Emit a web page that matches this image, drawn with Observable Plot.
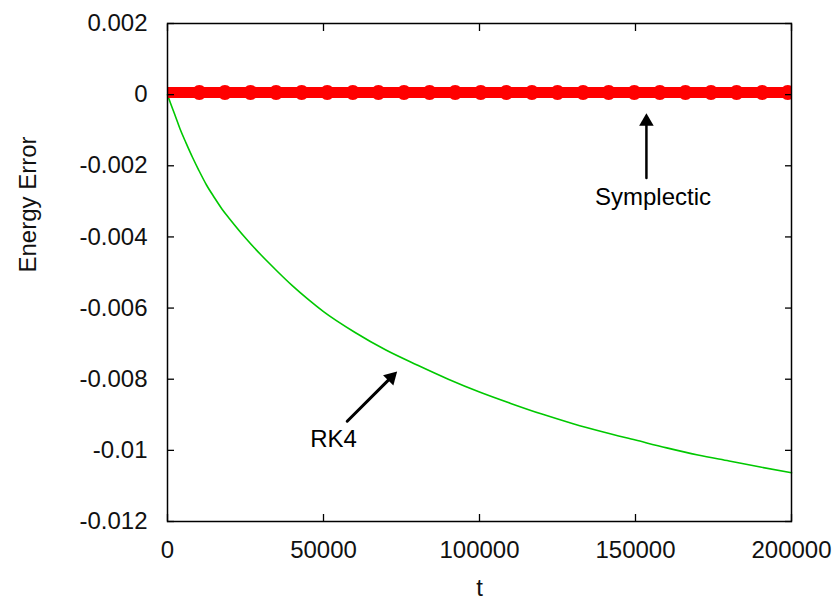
<!DOCTYPE html>
<html><head><meta charset="utf-8">
<script src="https://cdn.jsdelivr.net/npm/d3@7"></script>
<script src="https://cdn.jsdelivr.net/npm/@observablehq/plot@0.6"></script>
<style>body{margin:0;background:#fff} #chart{width:837px;height:605px}</style>
</head><body><div id="chart"></div>
<script>
// RK4 energy error vs time
const rk4T = [0, 1000, 2500, 4000, 6000, 8000, 10000, 12500, 15000, 17500, 20000, 25000, 30000, 35000, 40000, 45000, 50000, 60000, 70000, 80000, 90000, 100000, 110000, 120000, 130000, 140000, 150000, 160000, 170000, 180000, 190000, 200000];
const rk4E = [0, -0.00025, -0.0006, -0.00096, -0.00137, -0.00176, -0.00212, -0.00254, -0.00289, -0.00322, -0.0035, -0.00403, -0.00451, -0.00495, -0.00537, -0.00575, -0.0061, -0.00668, -0.00718, -0.0076, -0.008, -0.00836, -0.00868, -0.00898, -0.00925, -0.00949, -0.00971, -0.00993, -0.01013, -0.0103, -0.01047, -0.01063];

// Symplectic energy error (a thin band near zero), sampled at the marker positions
const symT = [0, 10200, 18400, 26600, 34800, 43000, 51200, 59400, 67600, 75800, 84000, 92200, 100400, 108600, 116800, 125000, 133200, 141400, 149600, 157800, 166000, 174200, 182400, 190600, 198800, 200000];
const symE = [0.00006, 0.00006, 0.00006, 0.00006, 0.00006, 0.00006, 0.00006, 0.00006, 0.00006, 0.00006, 0.00006, 0.00006, 0.00006, 0.00006, 0.00006, 0.00006, 0.00006, 0.00006, 0.00006, 0.00006, 0.00006, 0.00006, 0.00006, 0.00006, 0.00006, 0.00006];

const xTicks = [0, 50000, 100000, 150000, 200000];
const xTickLabels = ["0", "50000", "100000", "150000", "200000"];
const yTicks = [0.002, 0, -0.002, -0.004, -0.006, -0.008, -0.01, -0.012];
const yTickLabels = ["0.002", "0", "-0.002", "-0.004", "-0.006", "-0.008", "-0.01", "-0.012"];

const xLabel = "t";
const yLabel = "Energy Error";

// annotations (data coordinates)
const annText = ["Symplectic", "RK4"];
const annT = [155600, 53200];
const annE = [-0.00288, -0.00969];
const arrowT1 = [153500, 57600];
const arrowE1 = [-0.00234, -0.00918];
const arrowT2 = [153500, 73600];
const arrowE2 = [-0.00052, -0.00778];

const rk4 = rk4T.map((t, i) => ({t, e: rk4E[i]}));
const sym = symT.map((t, i) => ({t, e: symE[i]}));
const markers = sym.slice(1, -1);
const ann = annText.map((text, i) => ({text, t: annT[i], e: annE[i]}));
const arrows = arrowT1.map((t1, i) => ({t1, e1: arrowE1[i], t2: arrowT2[i], e2: arrowE2[i]}));

const xFmt = new Map(xTicks.map((v, i) => [v, xTickLabels[i]]));
const yFmt = new Map(yTicks.map((v, i) => [v, yTickLabels[i]]));

const FONT = "Liberation Sans, Arial, Helvetica, sans-serif";
const FS = 24;

const chart = Plot.plot({
  width: 837,
  height: 605,
  marginLeft: 167,
  marginRight: 46,
  marginTop: 23,
  marginBottom: 84,
  style: {fontFamily: FONT, fontSize: FS + "px", background: "#fff", color: "#111"},
  x: {domain: [0, 200000], axis: null},
  y: {domain: [-0.012, 0.002], axis: null},
  marks: [
    Plot.line(rk4, {x: "t", y: "e", stroke: "#00c800", strokeWidth: 1.6, curve: "monotone-x"}),
    Plot.line(sym, {x: "t", y: "e", stroke: "#ff0000", strokeWidth: 11, strokeLinecap: "butt"}),
    Plot.dot(markers, {x: "t", y: "e", r: 6, stroke: "#ff0000", strokeWidth: 3, fill: "none", clip: true}),
    // arrows
    Plot.arrow(arrows.slice(0, 1), {x1: "t1", y1: "e1", x2: "t2", y2: "e2", stroke: "#000", strokeWidth: 2.5, headLength: 0, insetEnd: 6}),
    Plot.arrow(arrows.slice(1), {x1: "t1", y1: "e1", x2: "t2", y2: "e2", stroke: "#000", strokeWidth: 3, headLength: 0, insetEnd: 6}),
    Plot.dot(arrows.slice(0, 1), {x: "t2", y: "e2", symbol: "triangle", r: 5.4, fill: "#000", stroke: "none", dy: 8.4}),
    Plot.dot(arrows.slice(1), {x: "t2", y: "e2", symbol: "triangle", r: 5.4, fill: "#000", stroke: "none", rotate: 45, dx: -5.94, dy: 5.94}),
    Plot.text(ann, {x: "t", y: "e", text: "text", fontSize: FS, fontFamily: FONT, fill: "#000"}),
    // frame and inner ticks on all sides
    Plot.frame({stroke: "#000", strokeWidth: 1.5}),
    Plot.axisX(xTicks, {anchor: "bottom", tickSize: -7, fill: "none", label: null, stroke: "#000", strokeWidth: 1.3}),
    Plot.axisX(xTicks, {anchor: "top", tickSize: -7, fill: "none", label: null, stroke: "#000", strokeWidth: 1.3}),
    Plot.axisY(yTicks, {anchor: "left", tickSize: -7, fill: "none", label: null, stroke: "#000", strokeWidth: 1.3}),
    Plot.axisY(yTicks, {anchor: "right", tickSize: -7, fill: "none", label: null, stroke: "#000", strokeWidth: 1.3}),
    // tick labels
    Plot.axisX(xTicks, {anchor: "bottom", tickSize: 0, tickPadding: 19, tickFormat: d => xFmt.get(d), label: null, fontSize: FS, fill: "#111"}),
    Plot.axisY(yTicks, {anchor: "left", tickSize: 0, tickPadding: 20, tickFormat: d => yFmt.get(d), label: null, fontSize: FS, fill: "#111"}),
    // axis titles
    Plot.text([yLabel], {frameAnchor: "left", dx: -139, rotate: -90, fontSize: FS, fontFamily: FONT, fill: "#111"}),
    Plot.text([xLabel], {frameAnchor: "bottom", dy: 74, fontSize: FS, fontFamily: FONT, fill: "#111"})
  ]
});
document.getElementById("chart").append(chart);
</script>
</body></html>
